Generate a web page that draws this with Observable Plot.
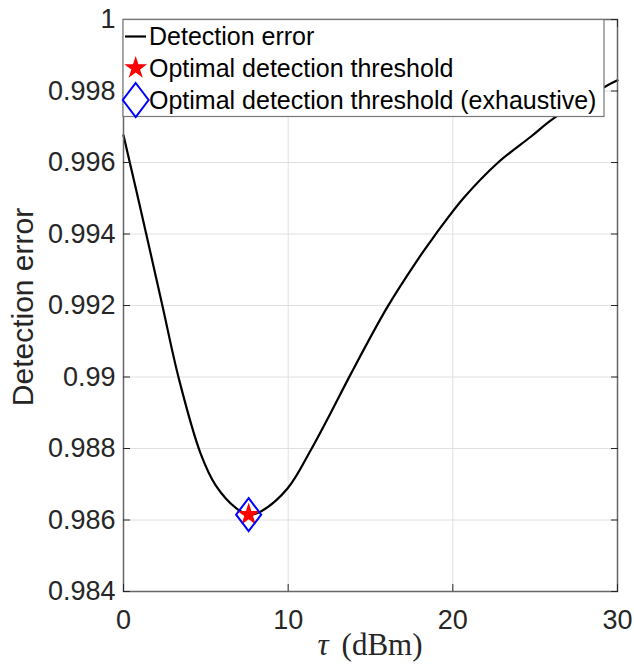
<!DOCTYPE html>
<html>
<head>
<meta charset="utf-8">
<script src="https://cdn.jsdelivr.net/npm/d3@7"></script>
<script src="https://cdn.jsdelivr.net/npm/@observablehq/plot@0.6"></script>
<style>
  body { margin: 0; background: #fff; }
  #chart { width: 634px; height: 665px; }
</style>
</head>
<body>
<div id="chart"></div>
<script>
// ---- data ----
const tau = [0, 0.75, 1.46, 2.37, 3.38, 4.69, 5.6, 6.82, 7.6, 8.34, 9.96, 11.37, 12.59, 13.8, 16.03, 17.85, 18.66, 19.27, 20.68, 22.7, 24.73, 26.14, 29.4, 30];
const detErr = [0.99676, 0.99527, 0.99384, 0.99198, 0.98992, 0.98785, 0.98697, 0.98634, 0.98615, 0.98624, 0.98688, 0.98795, 0.98900, 0.99008, 0.99196, 0.99327, 0.99380, 0.99419, 0.99502, 0.99598, 0.99672, 0.99724, 0.99816, 0.99830];
const optTau = [7.6];
const optErr = [0.98615];
const exhTau = [7.6];
const exhErr = [0.98615];
const xTicks = [0, 10, 20, 30];
const xTickLabels = ["0", "10", "20", "30"];
const yTicks = [0.984, 0.986, 0.988, 0.990, 0.992, 0.994, 0.996, 0.998, 1.000];
const yTickLabels = ["0.984", "0.986", "0.988", "0.99", "0.992", "0.994", "0.996", "0.998", "1"];
const seriesNames = ["Detection error", "Optimal detection threshold", "Optimal detection threshold (exhaustive)"];
const xLabelSymbol = "τ";
const xLabelUnit = "(dBm)";
const yLabel = "Detection error";

const curveData = tau.map((t, i) => ({tau: t, err: detErr[i]}));
const optData = optTau.map((t, i) => ({tau: t, err: optErr[i]}));
const exhData = exhTau.map((t, i) => ({tau: t, err: exhErr[i]}));

const labelOf = (ticks, labels) => d => {
  const i = ticks.findIndex(t => Math.abs(t - d) < 1e-9);
  return i >= 0 ? labels[i] : "";
};

// MATLAB-like tall diamond
const tallDiamond = {
  draw(ctx, size) {
    const r = Math.sqrt(size / Math.PI);
    const w = r * 0.76;
    ctx.moveTo(0, -r); ctx.lineTo(w, 0); ctx.lineTo(0, r); ctx.lineTo(-w, 0); ctx.closePath();
  }
};

const sansFont = "'Liberation Sans', Arial, Helvetica, sans-serif";
const tickColor = "#262626";

const svg = Plot.plot({
  width: 634,
  height: 665,
  marginLeft: 123,
  marginRight: 17,
  marginTop: 19,
  marginBottom: 74,
  style: {fontFamily: sansFont, fontSize: "27px", color: tickColor, background: "#fff", overflow: "visible"},
  x: {domain: [0, 30]},
  y: {domain: [0.984, 1]},
  marks: [
    Plot.gridX(xTicks, {stroke: "#e0e0e0", strokeOpacity: 1, strokeWidth: 1}),
    Plot.gridY(yTicks, {stroke: "#e0e0e0", strokeOpacity: 1, strokeWidth: 1}),
    Plot.line(curveData, {x: "tau", y: "err", curve: "catmull-rom", stroke: "#000", strokeWidth: 2.2}),
    Plot.dot(optData, {x: "tau", y: "err", symbol: "star", r: 7.2, fill: "#ff0000", stroke: "none"}),
    Plot.dot(exhData, {x: "tau", y: "err", symbol: tallDiamond, r: 16.5, fill: "none", stroke: "#0000ff", strokeWidth: 2}),
    Plot.frame({stroke: "#666", strokeWidth: 1.5}),
    Plot.axisX({anchor: "bottom", ticks: xTicks, tickSize: -7, tickPadding: 25, tickFormat: labelOf(xTicks, xTickLabels), label: null, stroke: tickColor, fill: tickColor}),
    Plot.axisX({anchor: "top", ticks: xTicks, tickSize: -7, tickFormat: () => "", label: null, stroke: tickColor}),
    Plot.axisY({anchor: "left", ticks: yTicks, tickSize: -7, tickPadding: 15, tickFormat: labelOf(yTicks, yTickLabels), label: null, stroke: tickColor, fill: tickColor}),
    Plot.axisY({anchor: "right", ticks: yTicks, tickSize: -7, tickFormat: () => "", label: null, stroke: tickColor})
  ]
});

const root = d3.select(svg);

// y label
root.append("text")
  .attr("transform", "translate(33,307) rotate(-90)")
  .attr("text-anchor", "middle")
  .attr("font-family", sansFont)
  .attr("font-size", 30)
  .attr("fill", tickColor)
  .text(yLabel);

// x label (LaTeX-like)
const xl = root.append("text")
  .attr("x", 370)
  .attr("y", 655)
  .attr("text-anchor", "middle")
  .attr("font-family", "'Liberation Serif', 'Times New Roman', serif")
  .attr("font-size", 31)
  .attr("fill", tickColor);
xl.append("tspan").attr("font-style", "italic").text(xLabelSymbol);
xl.append("tspan").attr("dx", 13).text(xLabelUnit);

// legend (inside the axes, top)
const lg = root.append("g").attr("text-anchor", "start");
lg.append("rect")
  .attr("x", 123).attr("y", 19.5).attr("width", 481).attr("height", 97)
  .attr("fill", "#fff").attr("stroke", "#777").attr("stroke-width", 1.2);
const rowY = [36.5, 68, 100];
const symX = 135.7;
const textX = 149;
lg.append("line").attr("x1", 125).attr("x2", 146).attr("y1", rowY[0]).attr("y2", rowY[0])
  .attr("stroke", "#000").attr("stroke-width", 2.2);
lg.append("path")
  .attr("transform", `translate(${symX},${rowY[1]})`)
  .attr("d", d3.symbol(d3.symbolStar, Math.PI * 7.2 * 7.2)())
  .attr("fill", "#ff0000");
lg.append("path")
  .attr("transform", `translate(${symX},${rowY[2]})`)
  .attr("d", d3.symbol(tallDiamond, Math.PI * 17 * 17)())
  .attr("fill", "none").attr("stroke", "#0000ff").attr("stroke-width", 2);
seriesNames.forEach((name, i) => {
  lg.append("text")
    .attr("x", textX)
    .attr("y", rowY[i] + 8.7)
    .attr("text-anchor", "start")
    .attr("font-family", sansFont)
    .attr("font-size", 25)
    .attr("fill", "#000")
    .text(name);
});

document.getElementById("chart").appendChild(svg);
</script>
</body>
</html>
